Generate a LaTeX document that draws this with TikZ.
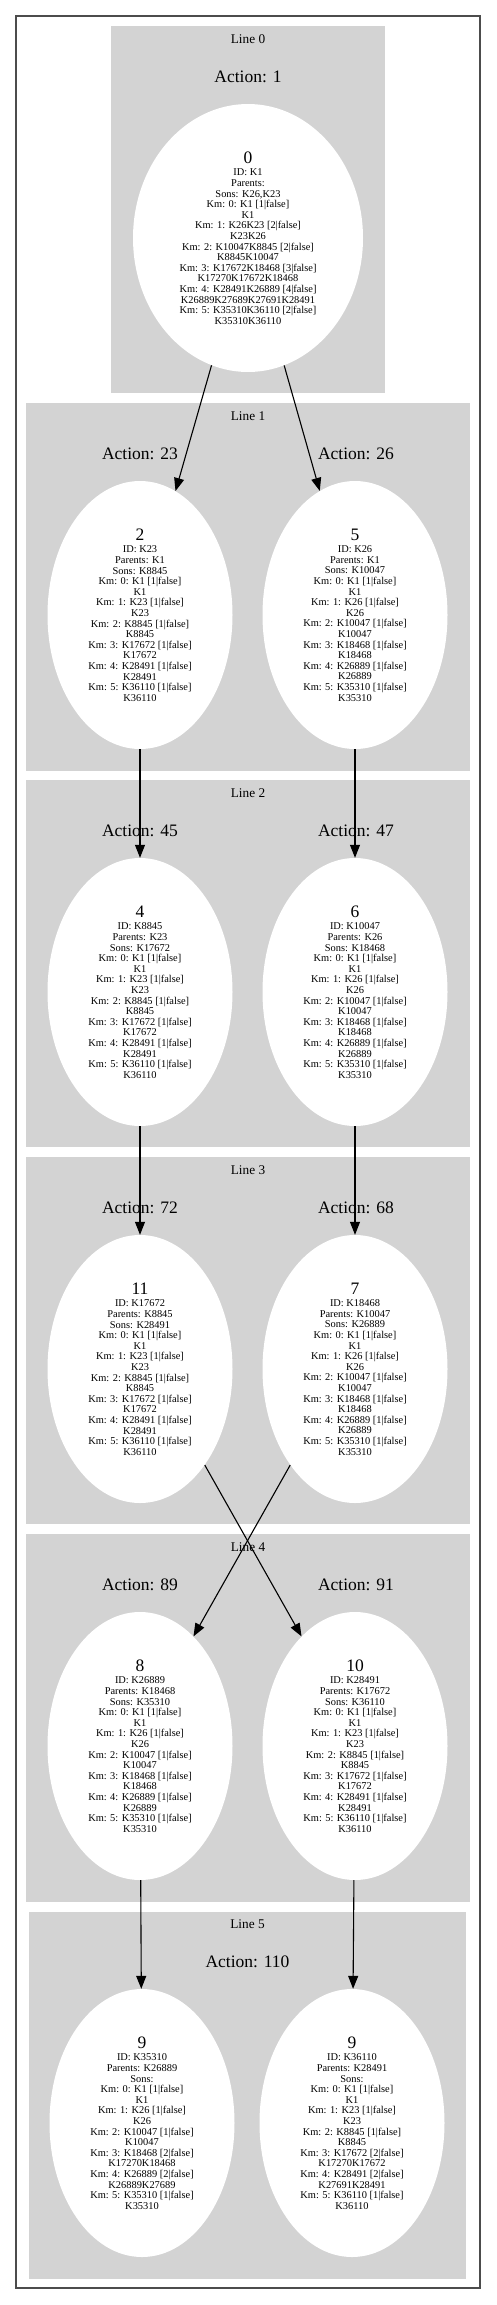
\documentclass[tikz,border=0pt]{standalone}
\usepackage{fontspec}
\setmainfont{Liberation Serif}
\usetikzlibrary{shapes.geometric,arrows.meta}
\definecolor{clustergray}{HTML}{D3D3D3}
\newcommand{\bignum}[1]{{\fontsize{17.5}{17.5}\selectfont #1}\\[2pt]}
\newcommand{\kmleft}{Km: 0: K1 [1|false]\\ K1\\ Km: 1: K23 [1|false]\\ K23\\ Km: 2: K8845 [1|false]\\ K8845\\ Km: 3: K17672 [1|false]\\ K17672\\ Km: 4: K28491 [1|false]\\ K28491\\ Km: 5: K36110 [1|false]\\ K36110}
\newcommand{\kmright}{Km: 0: K1 [1|false]\\ K1\\ Km: 1: K26 [1|false]\\ K26\\ Km: 2: K10047 [1|false]\\ K10047\\ Km: 3: K18468 [1|false]\\ K18468\\ Km: 4: K26889 [1|false]\\ K26889\\ Km: 5: K35310 [1|false]\\ K35310}
\begin{document}
\begin{tikzpicture}[x=1pt,y=-1pt,
  cluster/.style={fill=clustergray,draw=none},
  ell/.style={ellipse,fill=white,draw=none,minimum width=185pt,minimum height=268pt,inner sep=0pt,align=center,font=\fontsize{10.4}{10.6}\selectfont},
  linelabel/.style={font=\fontsize{13.3}{14}\selectfont,inner sep=0pt},
  actlabel/.style={font=\fontsize{17.5}{18}\selectfont,inner sep=0pt},
  edge/.style={line width=1.1pt,-{Triangle[length=13pt,width=10pt]}}]
\useasboundingbox (0,0) rectangle (496,2305);
\draw[black!70,line width=1.6pt] (16,16) rectangle (480,2288);
% clusters
\fill[cluster] (111,26) rectangle (385,393);
\fill[cluster] (26,403) rectangle (470,771);
\fill[cluster] (26,780) rectangle (470,1147);
\fill[cluster] (26,1157) rectangle (470,1524);
\fill[cluster] (26,1534) rectangle (470,1902);
\fill[cluster] (28.5,1911.5) rectangle (466,2279);
% cluster labels
\node[linelabel] (l0) at (248,39) {Line 0};
\node[linelabel] (l1) at (248,416) {Line 1};
\node[linelabel] (l2) at (248,793) {Line 2};
\node[linelabel] (l3) at (248,1170) {Line 3};
\node[linelabel] (l4) at (248,1547) {Line 4};
\node[linelabel] (l5) at (247.5,1924) {Line 5};
% action labels
\node[actlabel] (a0) at (248,77) {Action: 1};
\node[actlabel] (a2) at (140,454) {Action: 23};
\node[actlabel] (a5) at (356,454) {Action: 26};
\node[actlabel] (a4) at (140,831) {Action: 45};
\node[actlabel] (a6) at (356,831) {Action: 47};
\node[actlabel] (a11) at (140,1208) {Action: 72};
\node[actlabel] (a7) at (356,1208) {Action: 68};
\node[actlabel] (a8) at (140,1585) {Action: 89};
\node[actlabel] (a10) at (356,1585) {Action: 91};
\node[actlabel] (a9) at (247.5,1962) {Action: 110};
% nodes
\node[ell,minimum width=230pt] (n0) at (248,238) {\bignum{0}ID: K1\\ Parents:\\ Sons: K26,K23\\ Km: 0: K1 [1|false]\\ K1\\ Km: 1: K26K23 [2|false]\\ K23K26\\ Km: 2: K10047K8845 [2|false]\\ K8845K10047\\ Km: 3: K17672K18468 [3|false]\\ K17270K17672K18468\\ Km: 4: K28491K26889 [4|false]\\ K26889K27689K27691K28491\\ Km: 5: K35310K36110 [2|false]\\ K35310K36110};
\node[ell] (n2) at (140,615) {\bignum{2}ID: K23\\ Parents: K1\\ Sons: K8845\\ \kmleft};
\node[ell] (n5) at (355,615) {\bignum{5}ID: K26\\ Parents: K1\\ Sons: K10047\\ \kmright};
\node[ell] (n4) at (140,992) {\bignum{4}ID: K8845\\ Parents: K23\\ Sons: K17672\\ \kmleft};
\node[ell] (n6) at (355,992) {\bignum{6}ID: K10047\\ Parents: K26\\ Sons: K18468\\ \kmright};
\node[ell] (n11) at (140,1369) {\bignum{11}ID: K17672\\ Parents: K8845\\ Sons: K28491\\ \kmleft};
\node[ell] (n7) at (355,1369) {\bignum{7}ID: K18468\\ Parents: K10047\\ Sons: K26889\\ \kmright};
\node[ell] (n8) at (140,1746) {\bignum{8}ID: K26889\\ Parents: K18468\\ Sons: K35310\\ \kmright};
\node[ell] (n10) at (355,1746) {\bignum{10}ID: K28491\\ Parents: K17672\\ Sons: K36110\\ \kmleft};
\node[ell] (n9a) at (142,2123) {\bignum{9}ID: K35310\\ Parents: K26889\\ Sons:\\ Km: 0: K1 [1|false]\\ K1\\ Km: 1: K26 [1|false]\\ K26\\ Km: 2: K10047 [1|false]\\ K10047\\ Km: 3: K18468 [2|false]\\ K17270K18468\\ Km: 4: K26889 [2|false]\\ K26889K27689\\ Km: 5: K35310 [1|false]\\ K35310};
\node[ell] (n9b) at (352,2123) {\bignum{9}ID: K36110\\ Parents: K28491\\ Sons:\\ Km: 0: K1 [1|false]\\ K1\\ Km: 1: K23 [1|false]\\ K23\\ Km: 2: K8845 [1|false]\\ K8845\\ Km: 3: K17672 [2|false]\\ K17270K17672\\ Km: 4: K28491 [2|false]\\ K27691K28491\\ Km: 5: K36110 [1|false]\\ K36110};
% edges
\draw[edge] (n0) -- (n2);
\draw[edge] (n0) -- (n5);
\draw[edge] (n2) -- (n4);
\draw[edge] (n5) -- (n6);
\draw[edge] (n4) -- (n11);
\draw[edge] (n6) -- (n7);
\draw[edge] (n11.-56) -- (n10.116);
\draw[edge] (n7.-124) -- (n8.64);
\draw[edge] (n8) -- (n9a);
\draw[edge] (n10) -- (n9b);
\end{tikzpicture}
\end{document}
